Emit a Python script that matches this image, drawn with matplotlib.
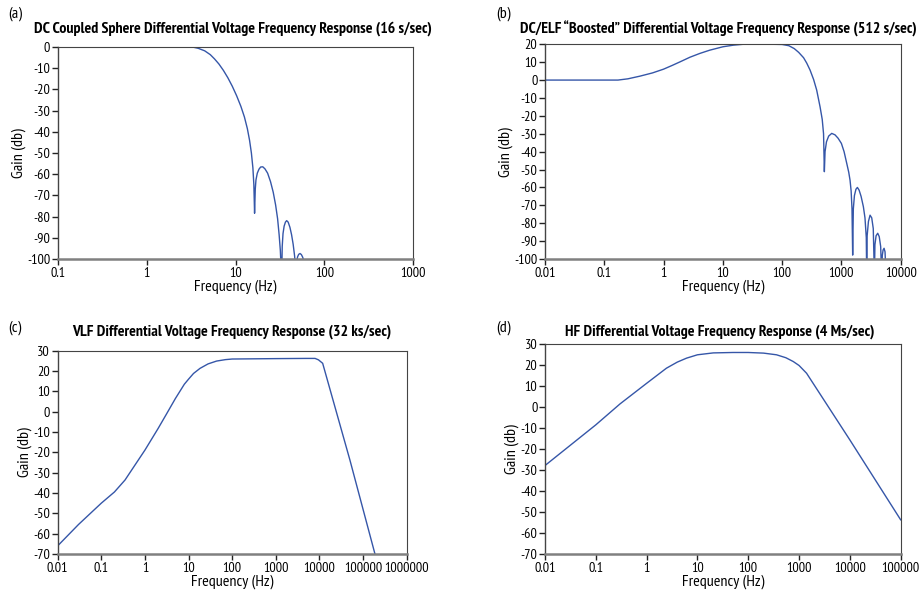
import matplotlib
matplotlib.use('Agg')
import matplotlib.pyplot as plt
from matplotlib.ticker import FixedLocator, FixedFormatter, NullLocator

# --- data ---
# (a) DC coupled sphere, 16 s/sec
freq_a = [0.1, 1, 2, 2.6, 3.2, 3.8, 4.5, 5.2, 5.8, 6.5, 7.3, 8.2, 9.2, 10.3, 11.5, 12.6,
          13.6, 14.4, 15.1, 15.7, 16.1, 16.4, 16.7, 17.0, 17.6, 18.4, 19.2, 20.3, 21.5,
          23.0, 24.8, 26.6, 28.3, 29.8, 31.0, 32.0, 33.1, 33.6, 34.3, 35.3, 36.5, 37.7,
          39.2, 41.0, 42.8, 44.6, 46.3, 47.5, 48.1, 48.8, 50.0, 51.5, 53.3, 55.2, 57.2,
          58.8, 60.3]
gain_a = [0, 0, 0.1, 0.3, 0.1, -0.6, -1.8, -3.6, -5.6, -8.0, -11.0, -14.5, -18.5, -23.0,
          -28.0, -33.0, -38.5, -44.0, -50.0, -57.0, -65.0, -78.4, -67.0, -62.7, -59.5,
          -57.6, -56.6, -56.5, -57.5, -59.5, -63.5, -68.5, -74.5, -81.0, -88.5, -96.0,
          -110, -94.0, -88.0, -84.5, -82.6, -81.9, -82.6, -85.0, -88.5, -93.0, -98.5,
          -104, -110, -101.5, -99.0, -97.8, -97.4, -97.9, -99.2, -101, -110]

# (b) DC/ELF boosted, 512 s/sec
freq_b = [0.01, 0.1, 0.17, 0.25, 0.4, 0.65, 1.0, 1.4, 1.9, 2.8, 4.1, 6.0, 10, 15, 22, 40,
          70, 100, 130, 160, 190, 230, 260, 296, 340, 383, 437, 475, 500, 516, 530, 560,
          610, 687, 780, 880, 1000, 1110, 1232, 1330, 1400, 1460, 1510, 1550, 1590, 1660,
          1760, 1862, 1990, 2150, 2350, 2500, 2630, 2673, 2720, 2860, 3046, 3250, 3450,
          3607, 3680, 3850, 4100, 4350, 4600, 4786, 4900, 5050, 5250, 5450, 5677]
gain_b = [0, 0, 0, 0.7, 2.2, 4.0, 6.1, 8.2, 10.2, 12.8, 14.9, 16.7, 18.6, 19.5, 20, 20,
          20, 19.9, 19.2, 17.6, 15.5, 12.5, 9.5, 5.6, 0.3, -5.6, -15.0, -22.0, -30.0,
          -51.2, -40.0, -34.5, -31.3, -29.8, -30.6, -32.5, -35.4, -40.0, -46.6, -51.5,
          -56.0, -62.0, -72.0, -97.8, -72.0, -64.5, -61.0, -60.0, -61.5, -65.0, -70.8,
          -77.0, -88.0, -110, -87.0, -79.0, -75.5, -77.0, -83.0, -110, -92.0, -87.0,
          -85.6, -87.5, -93.0, -110, -98.0, -95.0, -94.0, -96.0, -110]

# (c) VLF, 32 ks/sec
freq_c = [0.01, 0.03, 0.1, 0.2, 0.35, 0.5, 1.0, 2.0, 3.15, 5.0, 8.0, 10, 13, 18.3, 28, 44,
          70, 100, 1000, 5000, 7943, 9500, 11860, 50000, 187500, 220000]
gain_c = [-66, -55.5, -45, -39.5, -33.6, -28.6, -18.9, -8.3, -1.0, 6.5, 13.5, 16.0, 18.8,
          21.3, 23.5, 24.9, 25.6, 25.9, 26.1, 26.2, 26.2, 25.5, 23.8, -23.8, -70, -76]

# (d) HF, 4 Ms/sec
freq_d = [0.01, 0.1, 0.3, 1.0, 2.45, 4.0, 6.1, 10, 20.5, 50, 100, 200, 360, 550, 767,
          1000, 1406, 10000, 100000]
gain_d = [-27.8, -8.4, 1.6, 11.4, 18.6, 21.5, 23.4, 25.0, 25.9, 26.1, 26.1, 25.8, 25.0,
          23.6, 21.8, 19.9, 16.2, -15.6, -53.7]

titles = ['DC Coupled Sphere Differential Voltage Frequency Response (16 s/sec)',
          'DC/ELF \u201cBoosted\u201d Differential Voltage Frequency Response (512 s/sec)',
          'VLF Differential Voltage Frequency Response (32 ks/sec)',
          'HF Differential Voltage Frequency Response (4 Ms/sec)']
panel_tags = ['(a)', '(b)', '(c)', '(d)']

xticks_a = [0.1, 1, 10, 100, 1000]
xlabels_a = ['0.1', '1', '10', '100', '1000']
xticks_b = [0.01, 0.1, 1, 10, 100, 1000, 10000]
xlabels_b = ['0.01', '0.1', '1', '10', '100', '1000', '10000']
xticks_c = [0.01, 0.1, 1, 10, 100, 1000, 10000, 100000, 1000000]
xlabels_c = ['0.01', '0.1', '1', '10', '100', '1000', '10000', '100000', '1000000']
xticks_d = [0.01, 0.1, 1, 10, 100, 1000, 10000, 100000]
xlabels_d = ['0.01', '0.1', '1', '10', '100', '1000', '10000', '100000']

yticks_a = list(range(-100, 1, 10))
yticks_b = list(range(-100, 21, 10))
yticks_cd = list(range(-70, 31, 10))

plt.rcParams['font.family'] = ['PT Sans Narrow', 'Roboto Condensed', 'DejaVu Sans']

LINE = '#3556a8'
W, H = 923, 596

fig = plt.figure(figsize=(W / 100, H / 100), dpi=100)

panels = [
    ([0.0628, 0.5654, 0.3847, 0.3557], freq_a, gain_a, xticks_a, xlabels_a, yticks_a, (0.1, 1000), (-100, 0)),
    ([0.5905, 0.5654, 0.3853, 0.3603], freq_b, gain_b, xticks_b, xlabels_b, yticks_b, (0.01, 10000), (-100, 20)),
    ([0.0625, 0.0705, 0.3781, 0.3411], freq_c, gain_c, xticks_c, xlabels_c, yticks_cd, (0.01, 1000000), (-70, 30)),
    ([0.5905, 0.0705, 0.3853, 0.3518], freq_d, gain_d, xticks_d, xlabels_d, yticks_cd, (0.01, 100000), (-70, 30)),
]

title_pos = [(233, 29), (718, 29), (232, 332), (720, 332)]
title_width = [396, 394, 317, 307]  # px, measured on the reference
tag_pos = [(8, 14), (496, 14), (8, 328), (496, 328)]

renderer = fig.canvas.get_renderer()

for i, (rect, fx, gy, xt, xl, yt, xlim, ylim) in enumerate(panels):
    ax = fig.add_axes(rect)
    ax.plot(fx, gy, '-', color=LINE, linewidth=1.0)
    ax.set_xscale('log')
    ax.set_xlim(xlim)
    ax.set_ylim(ylim)
    ax.xaxis.set_major_locator(FixedLocator(xt))
    ax.xaxis.set_major_formatter(FixedFormatter(xl))
    ax.xaxis.set_minor_locator(NullLocator())
    ax.set_yticks(yt)
    ax.set_yticklabels([str(v) for v in yt])
    ax.tick_params(axis='both', direction='out', length=4, width=1, color='#222222',
                   labelsize=10.2, pad=1.5)
    for s in ['top', 'right']:
        ax.spines[s].set_color('#444444')
        ax.spines[s].set_linewidth(0.8)
    ax.spines['left'].set_color('#444444')
    ax.spines['left'].set_linewidth(1.0)
    ax.spines['bottom'].set_color('#808080')
    ax.spines['bottom'].set_linewidth(1.8)
    ax.set_xlabel('Frequency (Hz)', fontsize=11.5, labelpad=0)
    ax.set_ylabel('Gain (db)', fontsize=11.5, labelpad=1)

    tx, ty = title_pos[i]
    t = fig.text(tx / W, 1 - ty / H, titles[i], ha='center', va='center',
                 fontsize=12, fontweight='bold')
    # shrink/grow the title so it spans the same width as in the reference
    bw = t.get_window_extent(renderer).width
    t.set_fontsize(12 * title_width[i] / bw)
    px, py = tag_pos[i]
    fig.text(px / W, 1 - py / H, panel_tags[i], ha='left', va='center', fontsize=11.5)

fig.savefig('out.png', dpi=100)
